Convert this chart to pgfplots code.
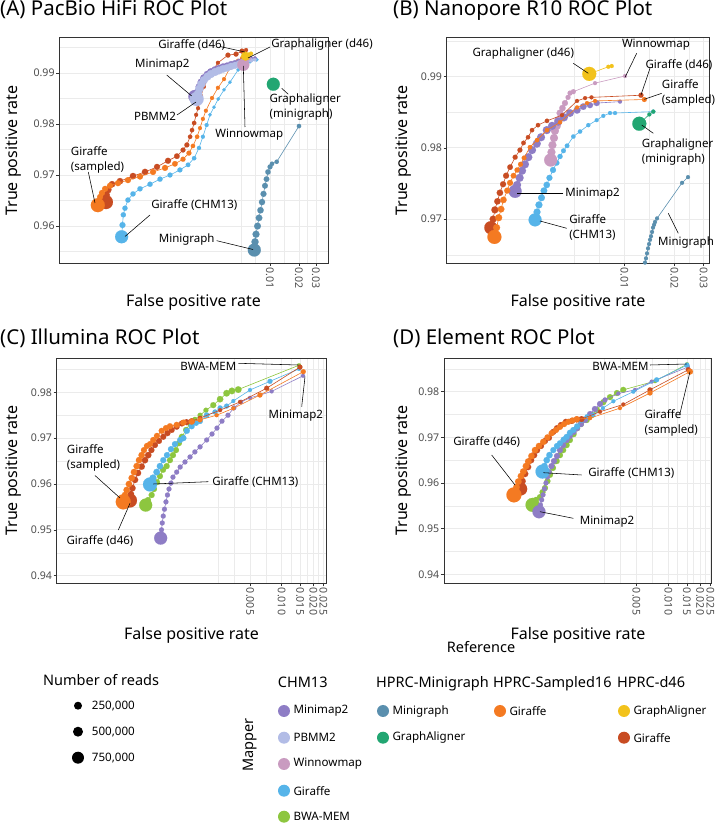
\documentclass[border=0pt]{standalone}
\usepackage{fontspec}
\setmainfont{Noto Sans}
\usepackage{pgfplots}
\pgfplotsset{compat=1.18}
\definecolor{grey20}{HTML}{333333}
\definecolor{grey30}{HTML}{4D4D4D}
\definecolor{grey92}{HTML}{EBEBEB}
\definecolor{cMinimap}{HTML}{8E7DC5}
\definecolor{cPBMM}{HTML}{B2BCE6}
\definecolor{cWinnow}{HTML}{C99BC0}
\definecolor{cGirC}{HTML}{56B4E9}
\definecolor{cBWA}{HTML}{8DC63F}
\definecolor{cMinigraph}{HTML}{5A8FAE}
\definecolor{cGAmg}{HTML}{22A672}
\definecolor{cGirS}{HTML}{F47A22}
\definecolor{cGAd}{HTML}{F2C21B}
\definecolor{cGirD}{HTML}{C84C22}
\newcommand\ttl{\fontsize{20.5}{24}\selectfont}
\newcommand\axt{\fontsize{16}{18}\selectfont}
\newcommand\tks{\fontsize{10.6}{12}\selectfont}
\newcommand\ann{\fontsize{11.5}{15}\selectfont}
\newcommand\lgt{\fontsize{14.5}{17}\selectfont}
\newcommand\lgl{\fontsize{11.6}{13}\selectfont}
\pgfplotsset{
  roc/.style={color=#1, line width=0.6pt, mark=*, scatter, point meta=explicit,
    scatter/use mapped color={draw=#1, fill=#1},
    visualization depends on={\thisrow{r} \as \rad},
    scatter/@pre marker code/.append style={/tikz/mark size=\rad},
    mark options={line width=0.1pt}},
  panel/.style={scale only axis, clip mode=individual,
    axis line style={grey20, line width=0.7pt},
    tick style={grey20, line width=0.6pt},
    tick align=outside, major tick length=3pt, minor tick length=0pt,
    tick pos=left,
    grid=both,
    major grid style={grey92, line width=0.9pt},
    minor grid style={grey92, line width=0.45pt},
    tick label style={font=\tks, text=grey30},
    xticklabel style={rotate=-90, anchor=west, inner sep=1.5pt},
    yticklabel style={inner sep=1.5pt}},
}
\begin{document}
\begin{tikzpicture}
\useasboundingbox (0,0) rectangle (716pt,823pt);
%% ---------------- Panel A ----------------
\begin{semilogxaxis}[panel, at={(59.3pt,560pt)}, anchor=south west, width=268.7pt, height=225.3pt,
  xmin=6.49e-5, xmax=0.0400, ymin=0.95276, ymax=0.99692,
  xtick={0.01,0.02,0.03}, xticklabels={0.01,0.02,0.03},
  minor xtick={0.005,0.00707,0.01414,0.02449},
  ytick={0.96,0.97,0.98,0.99}, yticklabels={0.96,0.97,0.98,0.99},
  minor ytick={0.955,0.965,0.975,0.985,0.995}]
\addplot[roc=cGirC] table[x=x,y=y,meta=r,row sep=\\]{x y r\\
2.88e-4 0.9579 6.5\\ 2.94e-4 0.9602 3\\ 3.00e-4 0.9622 2.6\\ 3.12e-4 0.9635 2.6\\ 3.35e-4 0.9651 2.6\\
3.78e-4 0.9663 2.6\\ 4.47e-4 0.9673 2.6\\ 5.68e-4 0.9682 2.6\\ 7.21e-4 0.9692 2.6\\ 9.16e-4 0.9700 2.5\\
1.16e-3 0.9710 2.5\\ 1.41e-3 0.9720 2.3\\ 1.63e-3 0.9733 2.2\\ 1.83e-3 0.9753 2.1\\ 2.01e-3 0.9775 2\\
2.20e-3 0.9798 2\\ 2.38e-3 0.9818 1.8\\ 2.62e-3 0.9833 1.8\\ 2.90e-3 0.9849 1.8\\ 3.33e-3 0.9867 1.8\\
3.84e-3 0.9882 1.8\\ 4.66e-3 0.9906 1.8\\ 5.37e-3 0.9916 1.8\\ 6.20e-3 0.9922 1.8\\ 7.28e-3 0.9926 1.8\\};
\addplot[roc=cMinigraph] table[x=x,y=y,meta=r,row sep=\\]{x y r\\
6.87e-3 0.9553 6.5\\ 6.99e-3 0.9569 3.6\\ 7.16e-3 0.9584 3.5\\ 7.42e-3 0.9600 3.4\\ 7.69e-3 0.9616 3.3\\
7.97e-3 0.9631 3.2\\ 8.26e-3 0.9647 3.1\\ 8.56e-3 0.9663 3\\ 8.87e-3 0.9679 2.9\\ 9.20e-3 0.9692 2.8\\
9.53e-3 0.9706 2.7\\ 1.00e-2 0.9716 2.5\\ 1.049e-2 0.9722 2.2\\ 1.174e-2 0.9726 2.2\\ 2.00e-2 0.9796 2.2\\};
\addplot[roc=cGirD] table[x=x,y=y,meta=r,row sep=\\]{x y r\\
1.98e-4 0.9647 7\\ 2.00e-4 0.9661 3.5\\ 2.08e-4 0.9671 3.5\\ 2.29e-4 0.9682 3.2\\ 2.77e-4 0.9688 3.2\\
3.78e-4 0.9698 3.2\\ 5.04e-4 0.9706 3.2\\ 6.71e-4 0.9716 3\\ 8.73e-4 0.9728 3\\ 1.08e-3 0.9737 2.8\\
1.25e-3 0.9749 2.5\\ 1.37e-3 0.9759 2.5\\ 1.48e-3 0.9775 2.2\\ 1.55e-3 0.9788 2.2\\ 1.63e-3 0.9802 2.2\\
1.71e-3 0.9818 2\\ 1.79e-3 0.9831 2\\ 1.92e-3 0.9855 2\\ 2.06e-3 0.9873 2\\ 2.38e-3 0.9896 2\\
2.88e-3 0.9920 2\\ 3.66e-3 0.9935 2.5\\ 4.44e-3 0.9937 2.5\\ 5.12e-3 0.9943 2.5\\ 5.64e-3 0.9945 2\\};
\addplot[roc=cGirS] table[x=x,y=y,meta=r,row sep=\\]{x y r\\
1.63e-4 0.9641 7\\ 1.72e-4 0.9657 3\\ 1.80e-4 0.9665 3\\ 1.94e-4 0.9673 3\\ 2.18e-4 0.9679 3\\
2.64e-4 0.9684 3\\ 3.35e-4 0.9690 3\\ 4.47e-4 0.9697 3\\ 6.10e-4 0.9706 3\\ 8.13e-4 0.9714 3\\
1.03e-3 0.9722 2.8\\ 1.25e-3 0.9731 2.5\\ 1.44e-3 0.9743 2.5\\ 1.585e-3 0.9757 2.2\\ 1.75e-3 0.9775 2.2\\
1.875e-3 0.9792 2\\ 2.01e-3 0.9810 2\\ 2.16e-3 0.9826 2\\ 2.50e-3 0.9851 2\\ 2.88e-3 0.9871 2\\
3.33e-3 0.9888 2\\ 3.84e-3 0.9910 2\\ 4.66e-3 0.9924 2\\ 5.12e-3 0.9929 2\\ 5.50e-3 0.9935 2\\};
\addplot[roc=cMinimap] table[x=x,y=y,meta=r,row sep=\\]{x y r\\
1.66e-3 0.9854 6.5\\ 1.79e-3 0.9863 3.8\\ 1.85e-3 0.9873 3.8\\ 1.94e-3 0.9882 3.8\\ 2.06e-3 0.9890 3.8\\
2.24e-3 0.9897 3.8\\ 2.44e-3 0.9902 3.8\\ 2.69e-3 0.9906 3.7\\ 2.95e-3 0.9909 3.6\\ 3.25e-3 0.9912 3.5\\
3.58e-3 0.9914 3.4\\ 3.94e-3 0.9917 3.3\\ 4.33e-3 0.9919 3.2\\ 4.77e-3 0.9922 3\\ 5.24e-3 0.9924 2.8\\
5.77e-3 0.9927 2.5\\ 6.35e-3 0.9928 2.2\\ 6.99e-3 0.9930 1.8\\};
\addplot[roc=cPBMM] table[x=x,y=y,meta=r,row sep=\\]{x y r\\
1.73e-3 0.9849 7\\ 1.79e-3 0.9859 4.2\\ 1.85e-3 0.9869 4.2\\ 1.94e-3 0.9878 4.1\\ 2.06e-3 0.9886 4\\
2.24e-3 0.9893 4\\ 2.44e-3 0.9898 4\\ 2.69e-3 0.9902 4\\ 2.95e-3 0.9905 3.9\\ 3.25e-3 0.9908 3.8\\
3.58e-3 0.9910 3.7\\ 3.94e-3 0.9913 3.6\\ 4.33e-3 0.9915 3.5\\ 4.77e-3 0.9918 3.3\\ 5.24e-3 0.9920 3\\
5.77e-3 0.9923 2.6\\ 6.35e-3 0.9925 2.2\\ 6.99e-3 0.9926 1.8\\};
\addplot[roc=cWinnow] table[x=x,y=y,meta=r,row sep=\\]{x y r\\
5.28e-3 0.9916 6\\ 5.64e-3 0.9924 2.5\\ 6.05e-3 0.9929 2\\};
\addplot[roc=cGAmg] table[x=x,y=y,meta=r,row sep=\\]{x y r\\
1.082e-2 0.9878 6.5\\};
\addplot[roc=cGAd] table[x=x,y=y,meta=r,row sep=\\]{x y r\\
5.57e-3 0.9933 4.5\\ 6.05e-3 0.9936 2\\ 6.35e-3 0.9938 2\\};
\end{semilogxaxis}
%% ---------------- Panel B ----------------
\begin{semilogxaxis}[panel, at={(446.7pt,560pt)}, anchor=south west, width=262.3pt, height=225.3pt,
  xmin=8.51e-4, xmax=0.03237, ymin=0.96384, ymax=0.99548,
  xtick={0.01,0.02,0.03}, xticklabels={0.01,0.02,0.03},
  minor xtick={0.005,0.00707,0.01414,0.02449},
  ytick={0.97,0.98,0.99}, yticklabels={0.97,0.98,0.99},
  minor ytick={0.965,0.975,0.985,0.995}]
\addplot[roc=cMinigraph] table[x=x,y=y,meta=r,row sep=\\]{x y r\\
1.332e-2 0.9639 2\\ 1.351e-2 0.9645 2\\ 1.370e-2 0.9652 2\\ 1.389e-2 0.9659 2\\ 1.409e-2 0.9665 2\\
1.428e-2 0.9671 2\\ 1.448e-2 0.9676 2\\ 1.469e-2 0.9682 2\\ 1.489e-2 0.9688 2\\ 1.510e-2 0.9692 2\\
1.531e-2 0.9696 2\\ 1.574e-2 0.9701 2\\ 2.227e-2 0.9751 2\\ 2.419e-2 0.9759 2\\};
\addplot[roc=cGirC] table[x=x,y=y,meta=r,row sep=\\]{x y r\\
2.90e-3 0.9699 6.5\\ 2.98e-3 0.9710 3.5\\ 3.06e-3 0.9720 3.5\\ 3.17e-3 0.9730 3.4\\ 3.28e-3 0.9740 3.3\\
3.41e-3 0.9748 3.2\\ 3.54e-3 0.9758 3\\ 3.72e-3 0.9769 3\\ 3.91e-3 0.9779 2.8\\ 4.10e-3 0.9788 2.6\\
4.30e-3 0.9796 2.4\\ 4.52e-3 0.9803 2.3\\ 4.93e-3 0.9816 2.2\\ 5.41e-3 0.9823 2.2\\ 6.07e-3 0.9832 2.1\\
6.82e-3 0.9839 2\\ 7.47e-3 0.9845 2\\ 8.20e-3 0.9849 2\\ 8.79e-3 0.9849 2\\ 1.495e-2 0.9851 2\\};
\addplot[roc=cWinnow] table[x=x,y=y,meta=r,row sep=\\]{x y r\\
3.60e-3 0.9783 6.5\\ 3.64e-3 0.9794 4\\ 3.69e-3 0.9804 4\\ 3.77e-3 0.9814 4\\ 3.82e-3 0.9824 4\\
3.92e-3 0.9831 4\\ 3.99e-3 0.9839 3.8\\ 4.10e-3 0.9849 3.5\\ 4.24e-3 0.9856 3.2\\ 4.39e-3 0.9863 3\\
4.58e-3 0.9871 2.5\\ 4.71e-3 0.9877 2.5\\ 4.93e-3 0.9879 2.5\\ 6.66e-3 0.9891 2\\ 1.01e-2 0.9901 2\\};
\addplot[roc=cMinimap] table[x=x,y=y,meta=r,row sep=\\]{x y r\\
2.20e-3 0.9739 6.5\\ 2.26e-3 0.9748 4\\ 2.34e-3 0.9758 4\\ 2.42e-3 0.9768 4\\ 2.52e-3 0.9777 4\\
2.64e-3 0.9787 4\\ 2.78e-3 0.9797 4\\ 2.97e-3 0.9806 4\\ 3.15e-3 0.9815 4\\ 3.41e-3 0.9825 4\\
3.67e-3 0.9831 4\\ 4.00e-3 0.9837 4\\ 4.33e-3 0.9843 4\\ 4.71e-3 0.9849 3.8\\ 5.19e-3 0.9853 3.5\\
5.66e-3 0.9858 3.3\\ 6.21e-3 0.9860 3\\ 6.82e-3 0.9863 3\\ 9.42e-3 0.9865 2\\};
\addplot[roc=cGirD] table[x=x,y=y,meta=r,row sep=\\]{x y r\\
1.57e-3 0.9688 6.5\\ 1.62e-3 0.9700 3.5\\ 1.66e-3 0.9713 3.5\\ 1.72e-3 0.9725 3.2\\ 1.78e-3 0.9737 3.2\\
1.86e-3 0.9749 3\\ 1.94e-3 0.9761 3\\ 2.05e-3 0.9773 2.8\\ 2.20e-3 0.9787 2.5\\ 2.35e-3 0.9797 2.5\\
2.47e-3 0.9807 2.3\\ 2.63e-3 0.9815 2.2\\ 2.78e-3 0.9825 2.2\\ 3.02e-3 0.9832 2.2\\ 3.42e-3 0.9838 2.2\\
4.21e-3 0.9846 2\\ 5.19e-3 0.9866 2\\ 5.80e-3 0.9870 2\\ 6.34e-3 0.9871 2\\ 1.26e-2 0.9874 2.5\\};
\addplot[roc=cGirS] table[x=x,y=y,meta=r,row sep=\\]{x y r\\
1.65e-3 0.9675 7\\ 1.70e-3 0.9688 3.5\\ 1.75e-3 0.9702 3.5\\ 1.81e-3 0.9714 3.3\\ 1.87e-3 0.9727 3.2\\
1.97e-3 0.9740 3\\ 2.05e-3 0.9751 3\\ 2.15e-3 0.9761 2.8\\ 2.26e-3 0.9769 2.6\\ 2.37e-3 0.9777 2.5\\
2.49e-3 0.9786 2.4\\ 2.70e-3 0.9801 2.2\\ 2.98e-3 0.9811 2.2\\ 3.42e-3 0.9825 2.2\\ 4.10e-3 0.9836 2.1\\
5.19e-3 0.9857 2\\ 5.96e-3 0.9863 2\\ 6.66e-3 0.9866 2\\ 1.32e-2 0.9868 2.5\\};
\addplot[roc=cGAd] table[x=x,y=y,meta=r,row sep=\\]{x y r\\
6.15e-3 0.9904 7\\ 8.01e-3 0.9914 2\\ 8.40e-3 0.9915 2\\};
\addplot[roc=cGAmg] table[x=x,y=y,meta=r,row sep=\\]{x y r\\
1.231e-2 0.9834 7\\ 1.415e-2 0.9847 2\\ 1.495e-2 0.9851 2\\};
\end{semilogxaxis}
%% ---------------- Panel C ----------------
\begin{semilogxaxis}[panel, at={(56.7pt,239.7pt)}, anchor=south west, width=269.3pt, height=225pt,
  xmin=7.20e-5, xmax=0.02642, ymin=0.93834, ymax=0.98742,
  xtick={0.005,0.010,0.015,0.020,0.025}, xticklabels={0.005,0.010,0.015,0.020,0.025},
  minor xtick={0.0025,0.003536,0.007071,0.012247,0.017321,0.022361},
  ytick={0.94,0.95,0.96,0.97,0.98}, yticklabels={0.94,0.95,0.96,0.97,0.98},
  minor ytick={0.945,0.955,0.965,0.975,0.985}]
\addplot[roc=cMinimap] table[x=x,y=y,meta=r,row sep=\\]{x y r\\
7.04e-4 0.9482 6.5\\ 7.17e-4 0.9500 2.5\\ 7.29e-4 0.9515 2.5\\ 7.45e-4 0.9530 2.5\\ 7.65e-4 0.9545 2.5\\
7.91e-4 0.9561 2.5\\ 8.17e-4 0.9576 2.5\\ 8.45e-4 0.9589 2.5\\ 8.82e-4 0.9602 2.5\\ 9.22e-4 0.9615 2.5\\
1.00e-3 0.9626 2.5\\ 1.08e-3 0.9637 2.5\\ 1.20e-3 0.9648 2.5\\ 1.34e-3 0.9659 2.5\\ 1.49e-3 0.9670 2.5\\
1.67e-3 0.9681 2.5\\ 1.93e-3 0.9696 2.5\\ 2.17e-3 0.9709 2.5\\ 2.42e-3 0.9722 2.5\\ 2.70e-3 0.9737 2.5\\
3.08e-3 0.9750 2.5\\ 3.51e-3 0.9766 2.4\\ 4.10e-3 0.9779 2.2\\ 4.99e-3 0.9788 2\\ 6.21e-3 0.9794 2\\
8.03e-3 0.9802 2\\ 1.596e-2 0.9836 2\\};
\addplot[roc=cBWA] table[x=x,y=y,meta=r,row sep=\\]{x y r\\
5.07e-4 0.9554 6.5\\ 5.33e-4 0.9565 3\\ 5.78e-4 0.9576 3\\ 6.08e-4 0.9589 3\\ 6.49e-4 0.9604 3\\
6.93e-4 0.9617 3\\ 7.41e-4 0.9631 3\\ 8.03e-4 0.9639 3\\ 8.63e-4 0.9652 3\\ 9.22e-4 0.9663 3\\
9.85e-4 0.9674 3\\ 1.05e-3 0.9689 3\\ 1.12e-3 0.9703 3\\ 1.23e-3 0.9718 3\\ 1.34e-3 0.9732 3\\
1.49e-3 0.9741 2.5\\ 1.67e-3 0.9750 2.5\\ 1.90e-3 0.9761 2.5\\ 2.23e-3 0.9772 3\\ 2.59e-3 0.9785 3.2\\
2.99e-3 0.9798 3.3\\ 3.36e-3 0.9803 3.3\\ 3.86e-3 0.9806 3.3\\ 1.462e-2 0.9859 2\\};
\addplot[roc=cGirC] table[x=x,y=y,meta=r,row sep=\\]{x y r\\
5.57e-4 0.9599 7\\ 5.95e-4 0.9613 3.5\\ 6.45e-4 0.9626 3.3\\ 6.93e-4 0.9639 3.2\\ 7.45e-4 0.9652 3\\
8.08e-4 0.9663 3\\ 8.82e-4 0.9676 3\\ 9.63e-4 0.9687 3\\ 1.08e-3 0.9696 3\\ 1.16e-3 0.9700 3\\
1.25e-3 0.9716 3\\ 1.39e-3 0.9726 3\\ 1.53e-3 0.9733 2.8\\ 1.67e-3 0.9737 2.8\\ 1.93e-3 0.9750 2.8\\
2.32e-3 0.9757 2.6\\ 2.59e-3 0.9766 2.5\\ 2.99e-3 0.9770 2.5\\ 3.46e-3 0.9781 2\\ 4.99e-3 0.9805 2\\
7.74e-3 0.9824 2.5\\ 1.462e-2 0.9851 2\\};
\addplot[roc=cGirD] table[x=x,y=y,meta=r,row sep=\\]{x y r\\
3.59e-4 0.9564 7\\ 3.67e-4 0.9578 3.2\\ 3.79e-4 0.9591 3.2\\ 4.01e-4 0.9609 3.2\\ 4.28e-4 0.9624 3.2\\
4.64e-4 0.9638 3.2\\ 4.99e-4 0.9652 3.2\\ 5.36e-4 0.9663 3.2\\ 5.75e-4 0.9674 3\\ 6.21e-4 0.9685 3\\
6.78e-4 0.9694 3\\ 7.45e-4 0.9703 3\\ 8.17e-4 0.9711 3\\ 8.96e-4 0.9718 3\\ 1.00e-3 0.9725 3\\
1.12e-3 0.9732 3\\ 1.24e-3 0.9735 3\\ 1.39e-3 0.9737 3\\ 1.67e-3 0.9744 2.2\\ 2.59e-3 0.9761 2\\
4.01e-3 0.9779 2\\ 7.20e-3 0.9809 2.5\\ 1.494e-2 0.9855 2.5\\};
\addplot[roc=cGirS] table[x=x,y=y,meta=r,row sep=\\]{x y r\\
3.10e-4 0.9561 7.5\\ 3.22e-4 0.9576 3.2\\ 3.34e-4 0.9587 3.2\\ 3.51e-4 0.9600 3.2\\ 3.73e-4 0.9613 3.2\\
3.92e-4 0.9626 3.2\\ 4.16e-4 0.9639 3.2\\ 4.38e-4 0.9652 3.2\\ 4.64e-4 0.9663 3.2\\ 4.88e-4 0.9674 3\\
5.21e-4 0.9683 3\\ 5.57e-4 0.9687 3\\ 5.98e-4 0.9696 3\\ 6.49e-4 0.9705 3\\ 7.20e-4 0.9716 3\\
7.91e-4 0.9722 3\\ 8.63e-4 0.9726 3\\ 1.00e-3 0.9729 3\\ 1.16e-3 0.9734 3\\ 1.39e-3 0.9736 3\\
1.67e-3 0.9740 2.5\\ 2.40e-3 0.9750 2\\ 3.46e-3 0.9765 2\\ 6.21e-3 0.9794 2.5\\ 1.606e-2 0.9845 2.5\\};
\end{semilogxaxis}
%% ---------------- Panel D ----------------
\begin{semilogxaxis}[panel, at={(444pt,239.7pt)}, anchor=south west, width=267.7pt, height=225pt,
  xmin=7.66e-5, xmax=0.02567, ymin=0.93803, ymax=0.98731,
  xtick={0.005,0.010,0.015,0.020,0.025}, xticklabels={0.005,0.010,0.015,0.020,0.025},
  minor xtick={0.0025,0.003536,0.007071,0.012247,0.017321,0.022361},
  ytick={0.94,0.95,0.96,0.97,0.98}, yticklabels={0.94,0.95,0.96,0.97,0.98},
  minor ytick={0.945,0.955,0.965,0.975,0.985}]
\addplot[roc=cBWA] table[x=x,y=y,meta=r,row sep=\\]{x y r\\
5.24e-4 0.9552 7\\ 5.65e-4 0.9563 3\\ 6.16e-4 0.9569 3\\ 6.51e-4 0.9580 3\\ 6.87e-4 0.9589 3\\
7.25e-4 0.9604 3\\ 7.66e-4 0.9618 3\\ 8.17e-4 0.9633 3\\ 8.86e-4 0.9648 3\\ 9.51e-4 0.9661 3\\
1.02e-3 0.9672 3\\ 1.10e-3 0.9683 3\\ 1.18e-3 0.9694 3\\ 1.28e-3 0.9707 3\\ 1.38e-3 0.9720 3\\
1.50e-3 0.9729 3\\ 1.70e-3 0.9738 3\\ 1.91e-3 0.9749 3\\ 2.12e-3 0.9760 3\\ 2.44e-3 0.9777 3\\
2.82e-3 0.9788 3\\ 3.28e-3 0.9797 3\\ 3.76e-3 0.9804 3\\ 7.49e-3 0.9823 2\\ 1.501e-2 0.9860 2\\};
\addplot[roc=cMinimap] table[x=x,y=y,meta=r,row sep=\\]{x y r\\
6.03e-4 0.9537 6.5\\ 6.23e-4 0.9552 2.5\\ 6.39e-4 0.9563 2.5\\ 6.58e-4 0.9574 2.5\\ 6.79e-4 0.9587 2.5\\
7.02e-4 0.9600 2.5\\ 7.25e-4 0.9613 2.5\\ 7.49e-4 0.9624 2.8\\ 7.91e-4 0.9637 3\\ 8.35e-4 0.9648 3\\
8.91e-4 0.9659 3\\ 9.51e-4 0.9672 3\\ 1.02e-3 0.9683 3\\ 1.10e-3 0.9694 3\\ 1.18e-3 0.9703 3\\
1.28e-3 0.9712 3\\ 1.38e-3 0.9720 3\\ 1.50e-3 0.9729 3\\ 1.64e-3 0.9738 3\\ 1.83e-3 0.9751 3\\
2.03e-3 0.9762 3\\ 2.27e-3 0.9773 3\\ 2.53e-3 0.9782 2.5\\ 3.38e-3 0.9796 2\\ 4.85e-3 0.9804 2\\
6.97e-3 0.9822 2\\ 1.534e-2 0.9854 2\\};
\addplot[roc=cGirC] table[x=x,y=y,meta=r,row sep=\\]{x y r\\
6.51e-4 0.9625 7\\ 6.79e-4 0.9637 3.2\\ 7.13e-4 0.9650 3.2\\ 7.57e-4 0.9661 3.2\\ 8.23e-4 0.9672 3\\
8.91e-4 0.9681 3\\ 9.51e-4 0.9687 3\\ 1.03e-3 0.9695 3\\ 1.10e-3 0.9701 3\\ 1.18e-3 0.9710 3\\
1.27e-3 0.9716 3\\ 1.38e-3 0.9724 3\\ 1.52e-3 0.9738 2.8\\ 1.71e-3 0.9745 2.5\\ 1.96e-3 0.9749 2.2\\
2.42e-3 0.9764 2\\ 3.03e-3 0.9779 2\\ 4.68e-3 0.9800 2\\ 7.77e-3 0.9826 2.5\\ 1.501e-2 0.9858 2.5\\};
\addplot[roc=cGirD] table[x=x,y=y,meta=r,row sep=\\]{x y r\\
4.05e-4 0.9587 6.5\\ 4.21e-4 0.9604 3.3\\ 4.45e-4 0.9620 3.3\\ 4.75e-4 0.9635 3.2\\ 5.07e-4 0.9650 3.2\\
5.41e-4 0.9661 3.2\\ 5.77e-4 0.9672 3.2\\ 6.30e-4 0.9681 3\\ 6.87e-4 0.9692 3\\ 7.49e-4 0.9699 3\\
8.23e-4 0.9712 3\\ 8.91e-4 0.9720 3\\ 9.72e-4 0.9727 3\\ 1.08e-3 0.9734 3\\ 1.23e-3 0.9736 3\\
1.37e-3 0.9739 3\\ 1.52e-3 0.9740 3\\ 2.27e-3 0.9756 2\\ 3.76e-3 0.9772 2\\ 6.72e-3 0.9804 2.5\\
1.544e-2 0.9848 2.5\\};
\addplot[roc=cGirS] table[x=x,y=y,meta=r,row sep=\\]{x y r\\
3.50e-4 0.9574 7.5\\ 3.70e-4 0.9591 3.3\\ 3.85e-4 0.9603 3.3\\ 4.08e-4 0.9615 3.3\\ 4.29e-4 0.9625 3.3\\
4.55e-4 0.9637 3.3\\ 4.78e-4 0.9647 3.3\\ 5.12e-4 0.9659 3.2\\ 5.53e-4 0.9672 3.2\\ 6.03e-4 0.9681 3.2\\
6.62e-4 0.9690 3.2\\ 7.25e-4 0.9700 3\\ 7.94e-4 0.9709 3\\ 8.72e-4 0.9716 3\\ 9.51e-4 0.9723 3\\
1.04e-3 0.9729 3\\ 1.14e-3 0.9734 3\\ 1.25e-3 0.9737 3\\ 1.37e-3 0.9740 3\\ 1.83e-3 0.9742 2\\
3.50e-3 0.9764 2\\ 6.72e-3 0.9797 2.5\\ 1.602e-2 0.9844 3\\};
\end{semilogxaxis}
%% ---------------- Text, annotations, legend ----------------
\begin{scope}[x=1pt,y=-1pt,yshift=823pt]
\node[anchor=base west,inner sep=0pt,font=\ttl] at (0,15.5) {(A) PacBio HiFi ROC Plot};
\node[anchor=base west,inner sep=0pt,font=\ttl] at (393,15.5) {(B) Nanopore R10 ROC Plot};
\node[anchor=base west,inner sep=0pt,font=\ttl] at (0,345) {(C) Illumina ROC Plot};
\node[anchor=base west,inner sep=0pt,font=\ttl] at (393,345) {(D) Element ROC Plot};
\node[rotate=90,inner sep=0pt,font=\axt] at (13.5,150.5) {True positive rate};
\node[rotate=90,inner sep=0pt,font=\axt] at (404,150.5) {True positive rate};
\node[rotate=90,inner sep=0pt,font=\axt] at (13.5,470.5) {True positive rate};
\node[rotate=90,inner sep=0pt,font=\axt] at (403.5,470.5) {True positive rate};
\node[inner sep=0pt,font=\axt] at (193.5,302.5) {False positive rate};
\node[inner sep=0pt,font=\axt] at (578,302.5) {False positive rate};
\node[inner sep=0pt,font=\axt] at (191.5,635.5) {False positive rate};
\node[inner sep=0pt,font=\axt] at (578,635.5) {False positive rate};
% annotations A
\begin{scope}[line width=0.55pt]
\draw (220,46.5) -- (245,52);
\node[font=\ann,inner sep=0pt] at (191.7,45) {Giraffe (d46)};
\draw (270,47) -- (248,58);
\node[font=\ann,inner sep=0pt,anchor=west] at (271,45) {Graphaligner (d46)};
\draw (166.7,75) -- (191.7,96);
\node[font=\ann,inner sep=0pt] at (162.3,65) {Minimap2};
\draw (177,115) -- (196,102);
\node[font=\ann,inner sep=0pt] at (155,116.7) {PBMM2};
\draw (245,127) -- (243.3,66);
\node[font=\ann,inner sep=0pt] at (249.3,134.3) {Winnowmap};
\draw (281.7,88.3) -- (288.3,94.3);
\node[font=\ann,inner sep=0pt,anchor=west,align=left] at (269.3,107.5) {Graphaligner\\(minigraph)};
\draw (88.3,172) -- (95,203);
\node[font=\ann,inner sep=0pt,anchor=west,align=left] at (70.7,159.5) {Giraffe\\(sampled)};
\draw (150,215) -- (125,236.5);
\node[font=\ann,inner sep=0pt] at (194.3,205) {Giraffe (CHM13)};
\draw (216.7,240.7) -- (253,249.5);
\node[font=\ann,inner sep=0pt] at (186.7,239.3) {Minigraph};
% annotations B
\draw (573.3,63.3) -- (588.3,73.3);
\node[font=\ann,inner sep=0pt] at (523.3,53.3) {Graphaligner (d46)};
\draw (636.7,53.3) -- (625,77.3);
\node[font=\ann,inner sep=0pt] at (656,45) {Winnowmap};
\draw (650,68.3) -- (641,95);
\node[font=\ann,inner sep=0pt] at (679,65) {Giraffe (d46)};
\draw (661.7,93.3) -- (644.3,99.3);
\node[font=\ann,inner sep=0pt,anchor=west,align=left] at (661.7,92.5) {Giraffe\\(sampled)};
\draw (653.3,133.3) -- (641.7,125);
\node[font=\ann,inner sep=0pt,anchor=west,align=left] at (641.7,152.2) {Graphaligner\\(minigraph)};
\draw (563.3,193.3) -- (516.7,193.3);
\node[font=\ann,inner sep=0pt] at (592.5,193.3) {Minimap2};
\draw (566.7,228.3) -- (540,221);
\node[font=\ann,inner sep=0pt,anchor=west,align=left] at (569,227.5) {Giraffe\\(CHM13)};
\draw (678.3,233.3) -- (668.3,213.3);
\node[font=\ann,inner sep=0pt] at (686,242.7) {Minigraph};
% annotations C
\draw (238.3,363.3) -- (298.3,365);
\node[font=\ann,inner sep=0pt] at (208.3,366.7) {BWA-MEM};
\draw (301.7,406.7) -- (305,376.7);
\node[font=\ann,inner sep=0pt] at (295.8,416) {Minimap2};
\draw (95,475.5) -- (120,498);
\node[font=\ann,inner sep=0pt,anchor=west,align=left] at (66.7,457.5) {Giraffe\\(sampled)};
\draw (208.3,481.7) -- (153.3,484);
\node[font=\ann,inner sep=0pt] at (255.3,481.7) {Giraffe (CHM13)};
\draw (118.3,530) -- (130,503.3);
\node[font=\ann,inner sep=0pt] at (100,540.7) {Giraffe (d46)};
% annotations D
\draw (650,365) -- (686.7,364);
\node[font=\ann,inner sep=0pt] at (620.5,366.7) {BWA-MEM};
\draw (680,413.3) -- (690,371.7);
\node[font=\ann,inner sep=0pt,anchor=west,align=left] at (644.3,422.7) {Giraffe\\(sampled)};
\draw (491.7,455) -- (515,485);
\node[font=\ann,inner sep=0pt] at (486.7,441.7) {Giraffe (d46)};
\draw (581.7,475) -- (543.3,472.7);
\node[font=\ann,inner sep=0pt] at (631.3,472.7) {Giraffe (CHM13)};
\draw (573.3,518.3) -- (540,511.7);
\node[font=\ann,inner sep=0pt] at (607,521.7) {Minimap2};
\end{scope}
% legend: size
\node[anchor=base west,inner sep=0pt,font=\lgt] at (43,686) {Number of reads};
\fill (78,705.7) circle[radius=4pt];
\fill (78,731.7) circle[radius=5pt];
\fill (78,757.7) circle[radius=6pt];
\node[anchor=west,inner sep=0pt,font=\lgl] at (91.7,705.7) {250,000};
\node[anchor=west,inner sep=0pt,font=\lgl] at (91.7,731.7) {500,000};
\node[anchor=west,inner sep=0pt,font=\lgl] at (91.7,757.7) {750,000};
% legend: mapper
\node[rotate=90,inner sep=0pt,font=\lgt] at (250,745) {Mapper};
\node[anchor=base,inner sep=0pt,font=\lgt] at (481,653) {Reference};
\node[anchor=base west,inner sep=0pt,font=\lgt] at (277.7,688) {CHM13};
\node[anchor=base west,inner sep=0pt,font=\lgt] at (376,688) {HPRC-Minigraph};
\node[anchor=base west,inner sep=0pt,font=\lgt] at (493,688) {HPRC-Sampled16};
\node[anchor=base west,inner sep=0pt,font=\lgt] at (617,688) {HPRC-d46};
\fill[cMinimap] (284,711) circle[radius=6pt];
\fill[cPBMM] (284,737.7) circle[radius=6pt];
\fill[cWinnow] (284,764) circle[radius=6pt];
\fill[cGirC] (284,790.7) circle[radius=6pt];
\fill[cBWA] (284,816.7) circle[radius=6pt];
\node[anchor=west,inner sep=0pt,font=\lgl] at (293.3,711) {Minimap2};
\node[anchor=west,inner sep=0pt,font=\lgl] at (293.3,737.7) {PBMM2};
\node[anchor=west,inner sep=0pt,font=\lgl] at (293.3,764) {Winnowmap};
\node[anchor=west,inner sep=0pt,font=\lgl] at (293.3,790.7) {Giraffe};
\node[anchor=west,inner sep=0pt,font=\lgl] at (293.3,816.7) {BWA-MEM};
\fill[cMinigraph] (383,711) circle[radius=6pt];
\fill[cGAmg] (383,737.7) circle[radius=6pt];
\node[anchor=west,inner sep=0pt,font=\lgl] at (392.3,711) {Minigraph};
\node[anchor=west,inner sep=0pt,font=\lgl] at (392.3,737.7) {GraphAligner};
\fill[cGirS] (500,711) circle[radius=6pt];
\node[anchor=west,inner sep=0pt,font=\lgl] at (509.3,711) {Giraffe};
\fill[cGAd] (624,711) circle[radius=6pt];
\fill[cGirD] (624,737.7) circle[radius=6pt];
\node[anchor=west,inner sep=0pt,font=\lgl] at (633.3,711) {GraphAligner};
\node[anchor=west,inner sep=0pt,font=\lgl] at (633.3,737.7) {Giraffe};
\end{scope}
\end{tikzpicture}
\end{document}
